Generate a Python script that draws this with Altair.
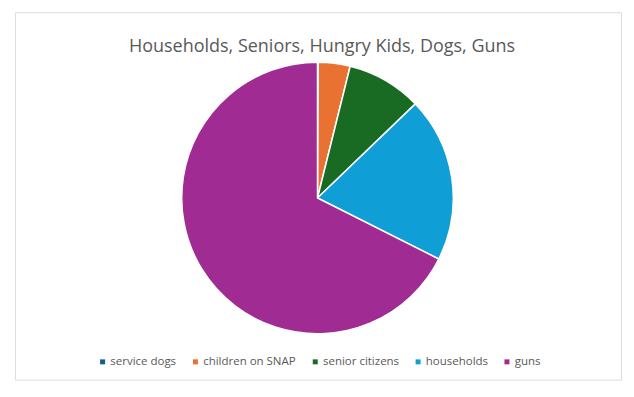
import altair as alt
import pandas as pd

categories = ["service dogs", "children on SNAP", "senior citizens", "households", "guns"]
values = [0.5, 22, 52, 114, 393]
colors = ["#156082", "#E97132", "#196B24", "#0F9ED5", "#A02B93"]

df = pd.DataFrame({"category": categories, "value": values, "idx": list(range(len(categories)))})

chart = alt.Chart(df).mark_arc(radius=136, stroke="white", strokeWidth=1.5).encode(
    theta=alt.Theta("value:Q", stack=True),
    order=alt.Order("idx:Q"),
    x=alt.value(303),
    y=alt.value(186),
    color=alt.Color(
        "category:N",
        scale=alt.Scale(domain=categories, range=colors),
        sort=categories,
        legend=alt.Legend(
            orient="none", legendX=82, legendY=344, direction="horizontal",
            title=None, symbolType="square", symbolSize=25, labelFontSize=11.5,
            labelColor="#595959", labelFont="Open Sans", columnPadding=13,
            labelOffset=2, symbolStrokeWidth=0,
        ),
    ),
).properties(
    width=607, height=368,
    title=alt.TitleParams(
        "Households, Seniors, Hungry Kids, Dogs, Guns",
        fontSize=18, font="Open Sans", fontWeight="normal", color="#595959",
        anchor="middle", offset=-44, dx=4,
    ),
    padding={"left": 7, "top": 4, "right": 5, "bottom": 5},
    autosize=alt.AutoSizeParams(type="none"),
).configure_view(stroke="#d9d9d9", strokeWidth=1).configure(background="white")

chart.save("out.html", embed_options={"renderer": "svg", "actions": False})
